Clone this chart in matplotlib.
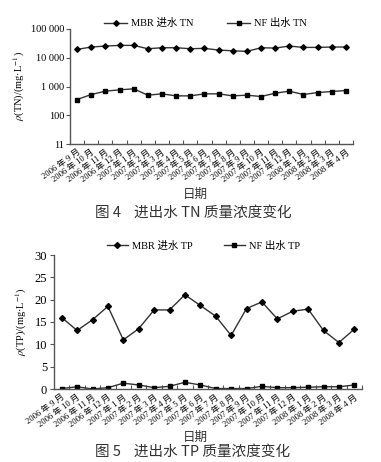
import matplotlib
matplotlib.use("Agg")
import matplotlib.pyplot as plt
from matplotlib.ticker import FixedLocator, FixedFormatter, NullLocator

plt.rcParams['font.family'] = ['Liberation Serif', 'Noto Sans CJK SC']
plt.rcParams['mathtext.fontset'] = 'stix'

months = ["2006 年 9 月", "2006 年 10 月", "2006 年 11 月", "2006 年 12 月",
          "2007 年 1 月", "2007 年 2 月", "2007 年 3 月", "2007 年 4 月",
          "2007 年 5 月", "2007 年 6 月", "2007 年 7 月", "2007 年 8 月",
          "2007 年 9 月", "2007 年 10 月", "2007 年 11 月", "2007 年 12 月",
          "2008 年 1 月", "2008 年 2 月", "2008 年 3 月", "2008 年 4 月"]

mbr_tn = [19500, 23600, 25500, 26900, 26900, 20600, 22300, 22300, 20600, 21200,
          18500, 17500, 16600, 22300, 21700, 25500, 22900, 22900, 23600, 23600]
nf_tn = [352, 526, 688, 765, 830, 499, 555, 472, 472, 555,
         555, 472, 499, 448, 585, 688, 526, 617, 669, 725]

mbr_tp = [16.0, 13.1, 15.5, 18.5, 11.0, 13.5, 17.7, 17.7, 21.1, 18.7,
          16.3, 12.0, 18.0, 19.5, 15.7, 17.4, 17.9, 13.1, 10.4, 13.4]
nf_tp = [0.1, 0.5, 0.0, 0.3, 1.3, 0.9, 0.3, 0.6, 1.5, 0.9,
         0.1, 0.1, 0.1, 0.6, 0.3, 0.3, 0.4, 0.5, 0.5, 0.9]

tn_ticks = [10, 100, 1000, 10000, 100000]
tn_ticklabels = ["11", "100", "1 000", "10 000", "100 000"]
tp_ticks = [0, 5, 10, 15, 20, 25, 30]

W, H = 381, 462
fig = plt.figure(figsize=(W / 100, H / 100), dpi=100)

line_c = '#333333'
spine_c = '#555555'
x = list(range(len(months)))


def style_axes(ax, xfs):
    for s in ['top', 'right']:
        ax.spines[s].set_visible(False)
    for s in ['left', 'bottom']:
        ax.spines[s].set_color(spine_c)
        ax.spines[s].set_linewidth(1.0)
    ax.set_xlim(-0.5, 19.5)
    ax.set_xticks([i + 0.5 for i in range(len(months))])
    ax.set_xticklabels([])
    ax.xaxis.set_minor_locator(FixedLocator(x))
    ax.xaxis.set_minor_formatter(FixedFormatter(months))
    ax.tick_params(axis='x', which='major', direction='in', length=3, color=spine_c)
    ax.tick_params(axis='x', which='minor', length=0, labelsize=xfs, pad=3)
    for lab in ax.xaxis.get_minorticklabels():
        lab.set_rotation(36)
        lab.set_ha('right')
        lab.set_va('top')
        lab.set_rotation_mode('anchor')
    ax.tick_params(axis='y', direction='out', length=3, color=spine_c)


# ---- Top chart (TN) ----
ax1 = fig.add_axes([70 / W, 1 - 144 / H, 283 / W, 115 / H])
ax1.set_yscale('log')
ax1.plot(x, mbr_tn, color=line_c, lw=1.0, marker='D', ms=2.8, mfc='black', mec='black', label="MBR 进水 TN")
ax1.plot(x, nf_tn, color=line_c, lw=1.0, marker='s', ms=3.2, mfc='black', mec='black', label="NF 出水 TN")
ax1.set_ylim(10, 100000)
ax1.yaxis.set_major_locator(FixedLocator(tn_ticks))
ax1.yaxis.set_major_formatter(FixedFormatter(tn_ticklabels))
ax1.yaxis.set_minor_locator(NullLocator())
style_axes(ax1, 6.2)
ax1.tick_params(axis='y', labelsize=7.5, pad=1)
ax1.set_ylabel(r"$\rho$(TN)/(mg·L$^{-1}$)", fontsize=7.5, labelpad=3)
ax1.legend(loc='lower center', bbox_to_anchor=(0.48, 0.97), ncol=2, frameon=False,
           fontsize=7.5, handlelength=2.2, columnspacing=3.2, handletextpad=0.4, borderaxespad=0)
fig.text(195 / W, 1 - 194 / H, "日期", ha='center', va='center', fontsize=9,
         family=['Noto Sans CJK SC'], color='#333333')
fig.text(193 / W, 1 - 213 / H, "图 4    进出水 TN 质量浓度变化", ha='center', va='center',
         fontsize=10.5, family=['Noto Sans CJK SC'], color='#333333')

# ---- Bottom chart (TP) ----
ax2 = fig.add_axes([54 / W, 1 - 389 / H, 308 / W, 134 / H])
ax2.plot(x, mbr_tp, color=line_c, lw=1.0, marker='D', ms=3.0, mfc='black', mec='black', label="MBR 进水 TP")
ax2.plot(x, nf_tp, color=line_c, lw=1.0, marker='s', ms=3.4, mfc='black', mec='black', label="NF 出水 TP")
ax2.set_ylim(0, 30)
ax2.set_yticks(tp_ticks)
ax2.set_yticklabels([str(t) for t in tp_ticks])
style_axes(ax2, 6.2)
ax2.tick_params(axis='y', labelsize=9, pad=2)
ax2.set_ylabel(r"$\rho$(TP)/(mg·L$^{-1}$)", fontsize=7.5, labelpad=4)
ax2.legend(loc='lower center', bbox_to_anchor=(0.485, 1.0), ncol=2, frameon=False,
           fontsize=7.5, handlelength=2.0, columnspacing=3.0, handletextpad=0.4, borderaxespad=0)
fig.text(195 / W, 1 - 437 / H, "日期", ha='center', va='center', fontsize=9,
         family=['Noto Sans CJK SC'], color='#333333')
fig.text(193 / W, 1 - 452 / H, "图 5    进出水 TP 质量浓度变化", ha='center', va='center',
         fontsize=10.5, family=['Noto Sans CJK SC'], color='#333333')

fig.savefig("out.png", dpi=100)
